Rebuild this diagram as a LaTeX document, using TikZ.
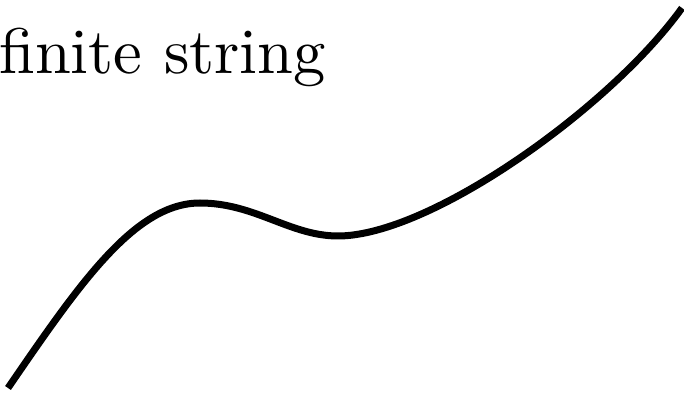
\documentclass[tikz,border=0pt]{standalone}
\usepackage{fontspec}
\newfontfamily\lmten[Extension=.otf]{lmroman10-regular}
\begin{document}
\begin{tikzpicture}[x=1pt,y=1pt,
  stringline/.style={line width=7pt,black},
  lbl/.style={font=\lmten\fontsize{64.5}{72}\selectfont, inner sep=0pt, anchor=base west}]
\useasboundingbox (0,0) rectangle (684,393);
\node[lbl] (title) at (-1,319) {finite string};
\coordinate (s0) at (8,5);
\coordinate (peak) at (200,190);
\coordinate (trough) at (338,157);
\coordinate (s1) at (682,385);
\draw[stringline] (s0) .. controls (80,110) and (135,190) .. (peak)
  .. controls (255,190) and (290,157) .. (trough)
  .. controls (430,157) and (610,285) .. (s1);
\end{tikzpicture}
\end{document}
